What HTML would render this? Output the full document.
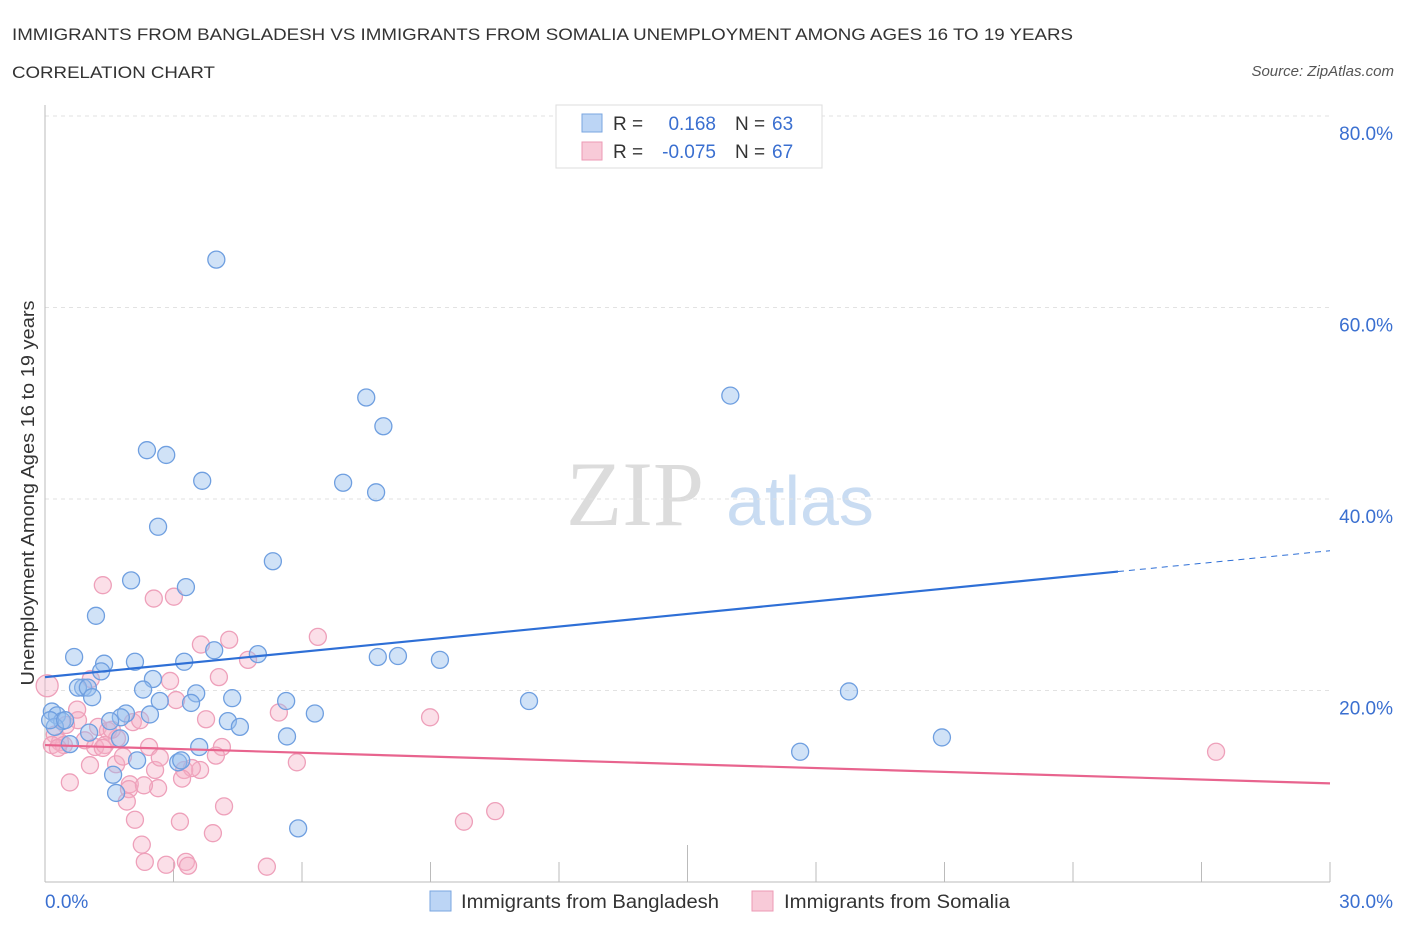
<!DOCTYPE html>
<html><head><meta charset="utf-8"><style>
body{margin:0;background:#fff;font-family:"Liberation Sans",sans-serif;}
svg{display:block}
</style></head><body>
<svg id="chart" width="1406" height="930">
<text x="12" y="40" font-size="17" fill="#333" textLength="1061" lengthAdjust="spacingAndGlyphs">IMMIGRANTS FROM BANGLADESH VS IMMIGRANTS FROM SOMALIA UNEMPLOYMENT AMONG AGES 16 TO 19 YEARS</text>
<text x="12" y="78" font-size="17" fill="#333" textLength="203" lengthAdjust="spacingAndGlyphs">CORRELATION CHART</text>
<text x="1394" y="76" font-size="15" fill="#555" font-style="italic" text-anchor="end">Source: ZipAtlas.com</text>
<g>
<text x="635" y="525" font-size="92" fill="#dcdcdc" text-anchor="middle" font-family="Liberation Serif,serif">ZIP</text>
<text x="800" y="525" font-size="70" fill="#c9dcf2" text-anchor="middle">atlas</text>
</g>
<g id="grid"></g>
<g id="ticks"></g>
<text x="34" y="493" font-size="18" fill="#333" text-anchor="middle" textLength="385" lengthAdjust="spacingAndGlyphs" transform="rotate(-90 34 493)">Unemployment Among Ages 16 to 19 years</text>
<g id="pts"></g>
<g id="lines"></g>
<g>
<rect x="556" y="105" width="266" height="63" fill="#fff" stroke="#ddd"/>
<rect x="582" y="114" width="20" height="18" fill="#bcd5f5" stroke="#7aa6e0"/>
<text x="613" y="130" font-size="19" fill="#333">R = </text><text x="716" y="130" font-size="19" fill="#3a6fd0" text-anchor="end">0.168</text>
<text x="735" y="130" font-size="19" fill="#333">N = </text><text x="772" y="130" font-size="19" fill="#3a6fd0">63</text>
<rect x="582" y="142" width="20" height="18" fill="#f8cad8" stroke="#ec9ab5"/>
<text x="613" y="158" font-size="19" fill="#333">R = </text><text x="716" y="158" font-size="19" fill="#3a6fd0" text-anchor="end">-0.075</text>
<text x="735" y="158" font-size="19" fill="#333">N = </text><text x="772" y="158" font-size="19" fill="#3a6fd0">67</text>
</g>
<g>
<rect x="430" y="891" width="21" height="20" fill="#bcd5f5" stroke="#7aa6e0"/>
<text x="461" y="908" font-size="19" fill="#333" textLength="258" lengthAdjust="spacingAndGlyphs">Immigrants from Bangladesh</text>
<rect x="752" y="891" width="21" height="20" fill="#f8cad8" stroke="#ec9ab5"/>
<text x="784" y="908" font-size="19" fill="#333" textLength="226" lengthAdjust="spacingAndGlyphs">Immigrants from Somalia</text>
</g>
</svg>
<script>
const yTicks=[20,40,60,80];
const yTickLabels=["20.0%","40.0%","60.0%","80.0%"];
const xEndLabels=["0.0%","30.0%"];
const blueX=[4.0,7.5,16.0,7.9,2.38,2.83,3.67,6.96,7.73,2.64,5.32,2.01,3.29,1.19,0.68,3.95,4.97,7.77,8.24,9.22,2.10,3.25,1.38,1.31,2.52,2.29,0.89,0.77,1.0,3.53,18.77,1.10,4.37,2.68,3.41,5.63,11.30,1.89,2.45,6.30,1.77,0.16,0.28,0.40,1.52,4.27,4.55,0.23,1.03,5.65,20.94,1.75,0.58,3.60,17.63,2.15,3.11,3.18,1.59,1.66,5.91,0.12,0.47];
const blueY=[65.0,50.6,50.8,47.6,45.1,44.6,41.9,41.7,40.7,37.1,33.5,31.5,30.8,27.8,23.5,24.2,23.8,23.5,23.6,23.2,23.0,23.0,22.8,22.0,21.2,20.1,20.3,20.3,20.3,19.7,19.9,19.3,19.2,18.9,18.7,18.9,18.9,17.6,17.5,17.6,17.2,17.8,17.4,16.8,16.8,16.8,16.2,16.2,15.6,15.2,15.1,15.0,14.4,14.1,13.6,12.7,12.5,12.7,11.2,9.3,5.6,16.9,16.9];
const pinkX=[0.05,1.35,2.54,3.01,1.07,2.92,4.06,3.64,4.30,6.37,4.74,3.06,5.46,3.76,8.99,0.77,0.49,1.24,2.05,1.47,0.23,0.93,0.35,1.68,2.43,0.44,4.13,3.62,5.88,1.05,1.66,2.57,1.98,3.25,3.43,3.20,1.96,2.64,2.31,4.18,1.91,2.10,3.15,3.92,2.26,2.33,2.83,3.29,3.34,5.18,9.78,10.51,27.34,0.58,1.56,1.17,0.16,0.30,1.40,1.82,0.75,2.22,2.68,1.35,3.99];
const pinkY=[20.5,31.0,29.6,29.8,21.2,21.0,21.4,24.8,25.3,25.6,23.2,19.0,17.7,17.0,17.2,16.9,16.4,16.2,16.7,15.8,15.4,14.8,14.6,15.0,14.1,14.3,14.1,11.7,12.5,12.2,12.3,11.7,10.2,11.7,11.9,10.8,9.7,9.8,10.1,7.9,8.4,6.5,6.3,5.1,3.9,2.1,1.8,2.1,1.7,1.6,6.3,7.4,13.6,10.4,15.9,14.1,14.3,14.0,14.3,13.1,18.0,16.9,13.0,14.0,13.2];
const blueTrend=[21.4,34.6];
const pinkTrend=[14.3,10.3];
const blueSolidEnd=25.05;

const X0=45,X1=1330,Y0=882,YPER=9.575;
const sx=v=>X0+(X1-X0)*v/30;
const sy=v=>Y0-v*YPER;
const NS="http://www.w3.org/2000/svg";
function mk(tag,attrs,parent){const e=document.createElementNS(NS,tag);for(const k in attrs)e.setAttribute(k,attrs[k]);parent.appendChild(e);return e;}
const grid=document.getElementById('grid'),ticks=document.getElementById('ticks'),pts=document.getElementById('pts'),lines=document.getElementById('lines');
yTicks.forEach((t,i)=>{
 const g=mk('line',{x1:X0,x2:X1,y1:sy(t),y2:sy(t),stroke:'#e2e2e2','stroke-dasharray':'4,4'},grid);
 
 
 const l=mk('text',{x:1393,y:sy(t)+24,'font-size':19,fill:'#3a6fd0','text-anchor':'end'},ticks);
 l.textContent=yTickLabels[i];
 
 
});
const ax=mk('line',{x1:X0,x2:X0,y1:105,y2:Y0,stroke:'#bbb'},ticks);


const bx=mk('line',{x1:X0,x2:X1,y1:Y0,y2:Y0,stroke:'#bbb'},ticks);


for(let i=1;i<=10;i++){
 const t=mk('line',{x1:sx(i*3),x2:sx(i*3),y1:i==5?845:862,y2:Y0,stroke:'#bbb'},ticks);
 
 
}
[[0,'start',45],[30,'end',1393]].forEach((d,i)=>{
 const l=mk('text',{x:d[2],y:908,'font-size':19,fill:'#3a6fd0','text-anchor':d[1]},ticks);
 l.textContent=xEndLabels[i];
 
 
});
pinkX.forEach((x,i)=>{
 const c=mk('circle',{cx:sx(x),cy:sy(pinkY[i]),r:i==0?11:8.5,fill:'rgba(246,176,198,0.4)',stroke:'#eea0ba','stroke-width':1.3},pts);
 
 
});
blueX.forEach((x,i)=>{
 const c=mk('circle',{cx:sx(x),cy:sy(blueY[i]),r:8.5,fill:'rgba(150,190,238,0.45)',stroke:'#6f9fe0','stroke-width':1.3},pts);
 
 
});
const bY=x=>blueTrend[0]+(blueTrend[1]-blueTrend[0])*x/30;
const b1=mk('line',{x1:sx(0),y1:sy(bY(0)),x2:sx(blueSolidEnd),y2:sy(bY(blueSolidEnd)),stroke:'#2e6fd6','stroke-width':2.2},lines);


const b2=mk('line',{x1:sx(blueSolidEnd),y1:sy(bY(blueSolidEnd)),x2:sx(30),y2:sy(bY(30)),stroke:'#2e6fd6','stroke-width':1,'stroke-dasharray':'6,5'},lines);


const p1=mk('line',{x1:sx(0),y1:sy(pinkTrend[0]),x2:sx(30),y2:sy(pinkTrend[1]),stroke:'#e8648e','stroke-width':2.2},lines);


</script>
</body></html>
